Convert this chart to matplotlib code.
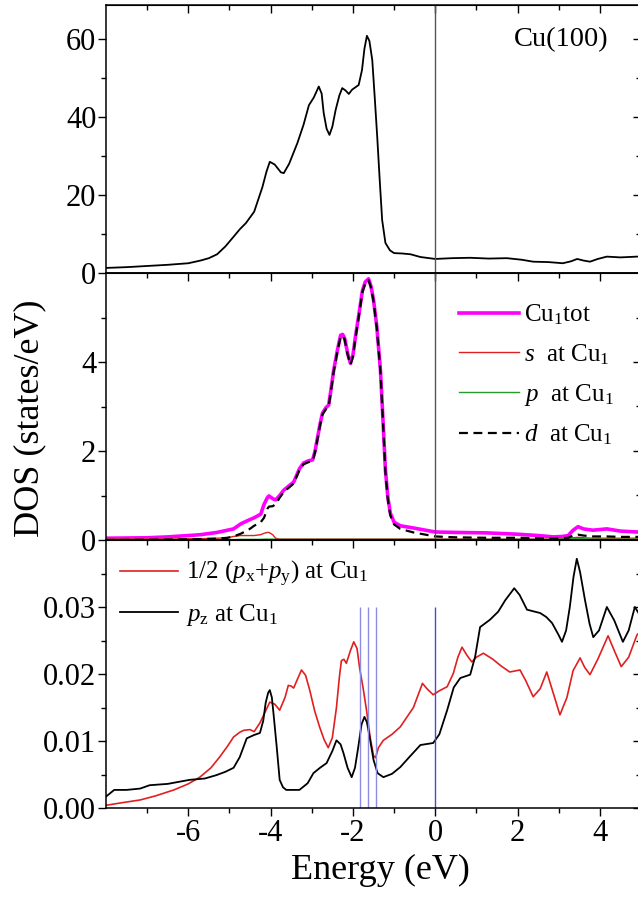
import matplotlib
matplotlib.use("Agg")
import matplotlib.pyplot as plt
from matplotlib.ticker import MultipleLocator, FixedLocator

plt.rcParams['font.family'] = ['Liberation Serif', 'DejaVu Serif']
plt.rcParams['mathtext.fontset'] = 'custom'
plt.rcParams['mathtext.rm'] = 'Liberation Serif'
plt.rcParams['mathtext.it'] = 'Liberation Serif:italic'
plt.rcParams['axes.unicode_minus'] = False

# ---- total DOS, Cu(100) slab ----
e_tot = [-8.0, -7.5, -7.0, -6.5, -6.0, -5.7, -5.5, -5.3, -5.1, -4.9, -4.75, -4.6, -4.4, -4.2,
         -4.1, -4.02, -3.9, -3.75, -3.68, -3.55, -3.35, -3.2, -3.07, -2.95, -2.83, -2.76,
         -2.71, -2.64, -2.57, -2.5, -2.42, -2.33, -2.26, -2.18, -2.1, -2.02, -1.94, -1.86,
         -1.78, -1.72, -1.66, -1.6, -1.53, -1.47, -1.41, -1.35, -1.29, -1.21, -1.1, -1.0,
         -0.8, -0.6, -0.36, 0.0, 0.4, 0.85, 1.3, 1.74, 2.1, 2.38, 2.75, 3.1, 3.3, 3.45,
         3.6, 3.76, 3.95, 4.17, 4.5, 4.9, 5.0]
dos_tot = [1.3, 1.5, 1.8, 2.1, 2.5, 3.2, 3.8, 4.8, 6.8, 9.3, 11.2, 12.8, 15.7, 22.0,
           26.0, 28.5, 27.8, 25.8, 25.6, 28.0, 33.3, 38.0, 43.0, 45.0, 47.8, 46.0,
           41.0, 37.0, 35.4, 37.5, 41.8, 45.5, 47.4, 46.8, 45.9, 47.0, 47.6, 48.2,
           52.0, 57.5, 60.8, 59.5, 54.6, 45.0, 35.0, 24.0, 13.6, 7.7, 5.8, 5.1,
           5.0, 4.8, 4.1, 3.6, 3.8, 3.9, 3.7, 3.8, 3.4, 2.9, 2.8, 2.5, 3.0, 3.6,
           3.2, 2.9, 3.6, 4.2, 4.0, 4.2, 4.2]

# ---- projected DOS at Cu1 ----
e_cu = [-8.0, -7.0, -6.5, -6.0, -5.7, -5.3, -5.05, -4.9, -4.73, -4.55, -4.4, -4.24, -4.16,
        -4.08, -4.04, -3.95, -3.88, -3.78, -3.68, -3.55, -3.44, -3.3, -3.2, -3.08, -2.98,
        -2.92, -2.86, -2.8, -2.74, -2.65, -2.59, -2.53, -2.47, -2.38, -2.3, -2.25, -2.2,
        -2.13, -2.06, -2.0, -1.94, -1.85, -1.77, -1.7, -1.62, -1.56, -1.5, -1.42, -1.33,
        -1.27, -1.21, -1.15, -1.09, -1.0, -0.85, -0.53, 0.0, 0.5, 1.25, 2.0, 2.5, 2.87,
        3.1, 3.23, 3.35, 3.47, 3.6, 3.83, 4.17, 4.5, 4.9, 5.0]
cu1_tot = [0.04, 0.05, 0.07, 0.10, 0.12, 0.17, 0.22, 0.25, 0.36, 0.44, 0.50, 0.58, 0.80,
           0.95, 0.99, 0.93, 0.90, 1.00, 1.12, 1.22, 1.30, 1.60, 1.73, 1.78, 1.80,
           2.00, 2.30, 2.60, 2.85, 2.98, 3.03, 3.40, 3.80, 4.25, 4.60, 4.62, 4.53,
           4.20, 3.97, 4.15, 4.56, 5.10, 5.60, 5.80, 5.87, 5.70, 5.40, 4.80, 3.80,
           2.70, 1.57, 0.95, 0.60, 0.40, 0.32, 0.27, 0.18, 0.17, 0.16, 0.13, 0.10, 0.07,
           0.08, 0.10, 0.22, 0.30, 0.25, 0.22, 0.25, 0.20, 0.18, 0.18]
cu1_d = [0.0, 0.005, 0.01, 0.015, 0.02, 0.03, 0.05, 0.08, 0.14, 0.22, 0.32, 0.40, 0.50,
         0.70, 0.75, 0.76, 0.80, 0.95, 1.08, 1.18, 1.27, 1.57, 1.70, 1.75, 1.77,
         1.97, 2.27, 2.57, 2.82, 2.95, 3.00, 3.37, 3.77, 4.22, 4.57, 4.59, 4.50,
         4.17, 3.94, 4.12, 4.53, 5.07, 5.57, 5.77, 5.84, 5.67, 5.37, 4.77, 3.77,
         2.67, 1.52, 0.90, 0.55, 0.35, 0.25, 0.17, 0.08, 0.06, 0.05, 0.05, 0.04, 0.03,
         0.04, 0.05, 0.10, 0.12, 0.10, 0.08, 0.08, 0.07, 0.07, 0.07]
cu1_s = [0.02, 0.02, 0.02, 0.03, 0.03, 0.04, 0.05, 0.08, 0.10, 0.10, 0.10, 0.12, 0.15,
         0.17, 0.17, 0.12, 0.04, 0.02, 0.02, 0.02, 0.02, 0.02, 0.02, 0.02, 0.02,
         0.02, 0.02, 0.02, 0.02, 0.02, 0.02, 0.02, 0.02, 0.02, 0.02, 0.02, 0.02,
         0.02, 0.02, 0.02, 0.02, 0.02, 0.02, 0.02, 0.02, 0.02, 0.02, 0.02, 0.02,
         0.02, 0.02, 0.02, 0.02, 0.02, 0.02, 0.02, 0.02, 0.02, 0.02, 0.02, 0.02, 0.02,
         0.03, 0.04, 0.05, 0.06, 0.05, 0.04, 0.04, 0.04, 0.04, 0.04]
cu1_p = [0.01, 0.01, 0.01, 0.01, 0.01, 0.01, 0.01, 0.01, 0.015, 0.015, 0.015, 0.015, 0.02,
         0.02, 0.02, 0.02, 0.015, 0.015, 0.015, 0.015, 0.015, 0.015, 0.015, 0.015, 0.015,
         0.015, 0.015, 0.015, 0.015, 0.015, 0.015, 0.015, 0.015, 0.015, 0.015, 0.015, 0.015,
         0.015, 0.015, 0.015, 0.015, 0.015, 0.015, 0.015, 0.015, 0.015, 0.015, 0.015, 0.015,
         0.015, 0.015, 0.015, 0.015, 0.015, 0.015, 0.015, 0.015, 0.015, 0.015, 0.015, 0.015, 0.015,
         0.02, 0.02, 0.03, 0.03, 0.03, 0.02, 0.02, 0.02, 0.02, 0.02]

# ---- in-plane / out-of-plane p states at Cu1 ----
e_pxy = [-8.0, -7.6, -7.17, -6.8, -6.35, -6.0, -5.72, -5.45, -5.24, -5.05, -4.9, -4.75,
         -4.65, -4.5, -4.4, -4.26, -4.12, -4.02, -3.9, -3.78, -3.65, -3.57, -3.5, -3.44,
         -3.35, -3.25, -3.15, -3.05, -2.93, -2.81, -2.7, -2.6, -2.5, -2.4, -2.33, -2.28,
         -2.22, -2.16, -2.06, -1.98, -1.9, -1.84, -1.75, -1.67, -1.58, -1.5, -1.45, -1.38,
         -1.26, -1.05, -0.85, -0.53, -0.42, -0.31, -0.2, -0.05, 0.1, 0.29, 0.44, 0.55,
         0.65, 0.77, 0.89, 1.0, 1.17, 1.4, 1.6, 1.81, 2.06, 2.2, 2.38, 2.55, 2.71, 2.85,
         3.03, 3.2, 3.35, 3.52, 3.63, 3.76, 3.95, 4.2, 4.35, 4.52, 4.7, 4.9, 5.0]
dos_pxy = [0.0004, 0.0008, 0.0012, 0.0018, 0.0027, 0.0036, 0.0046, 0.0060, 0.0076, 0.0092,
           0.0106, 0.0113, 0.0116, 0.0117, 0.0114, 0.0127, 0.0145, 0.0158, 0.0155, 0.0146,
           0.0165, 0.0183, 0.0182, 0.0179, 0.0192, 0.0206, 0.0198, 0.0176, 0.0145, 0.0121,
           0.0102, 0.0090, 0.0105, 0.0150, 0.0195, 0.0220, 0.0222, 0.0216, 0.0235, 0.0248,
           0.0238, 0.0210, 0.0178, 0.0146, 0.0105, 0.0078, 0.0075, 0.0090, 0.0101, 0.0110,
           0.0121, 0.0150, 0.0168, 0.0186, 0.0178, 0.0169, 0.0175, 0.0181, 0.0201, 0.0225,
           0.0240, 0.0228, 0.0218, 0.0225, 0.0231, 0.0222, 0.0212, 0.0203, 0.0206, 0.0190,
           0.0166, 0.0178, 0.0203, 0.0175, 0.0139, 0.0165, 0.0205, 0.0224, 0.0210, 0.0199,
           0.0222, 0.0257, 0.0235, 0.0211, 0.0225, 0.0258, 0.0265]
e_pz = [-8.0, -7.8, -7.5, -7.17, -6.94, -6.5, -5.97, -5.6, -5.32, -5.1, -4.9, -4.75, -4.58,
        -4.4, -4.26, -4.18, -4.12, -4.06, -4.02, -3.97, -3.93, -3.85, -3.78, -3.7, -3.62,
        -3.3, -3.1, -2.96, -2.8, -2.64, -2.5, -2.4, -2.3, -2.23, -2.13, -2.03, -1.95,
        -1.87, -1.79, -1.72, -1.66, -1.6, -1.5, -1.4, -1.26, -1.05, -0.85, -0.6, -0.36,
        -0.05, 0.1, 0.29, 0.45, 0.61, 0.85, 0.97, 1.09, 1.33, 1.53, 1.7, 1.92, 2.05, 2.23,
        2.55, 2.7, 2.84, 3.0, 3.08, 3.18, 3.27, 3.36, 3.44, 3.52, 3.64, 3.75, 3.84, 3.98,
        4.17, 4.35, 4.56, 4.7, 4.85, 5.0]
dos_pz = [0.0017, 0.0027, 0.0027, 0.0029, 0.0034, 0.0036, 0.0042, 0.0044, 0.0049, 0.0054,
          0.0060, 0.0076, 0.0104, 0.0109, 0.0112, 0.0130, 0.0157, 0.0172, 0.0176, 0.0165,
          0.0141, 0.0090, 0.0042, 0.0031, 0.0027, 0.0027, 0.0037, 0.0052, 0.0060, 0.0067,
          0.0085, 0.0101, 0.0095, 0.0082, 0.0060, 0.0046, 0.0060, 0.0091, 0.0125, 0.0136,
          0.0128, 0.0108, 0.0072, 0.0052, 0.0046, 0.0051, 0.0061, 0.0078, 0.0094, 0.0097,
          0.0110, 0.0146, 0.0180, 0.0194, 0.0199, 0.0226, 0.0270, 0.0281, 0.0293, 0.0310,
          0.0328, 0.0318, 0.0296, 0.0291, 0.0285, 0.0276, 0.0258, 0.0248, 0.0265, 0.0300,
          0.0345, 0.0372, 0.0352, 0.0310, 0.0275, 0.0255, 0.0265, 0.0300, 0.0280, 0.0248,
          0.0265, 0.0300, 0.0285]

# energies of the thin vertical markers in the lower panel
marker_e = [-1.84, -1.63, -1.45]
fermi_e = 0.0
marker_top = 0.03

fs_tick = 22
fs_label = 26
fs_leg = 18

fig = plt.figure(figsize=(6.38, 9.08), dpi=100)
left, width = 106 / 638, 535 / 638
ax1 = fig.add_axes([left, 1 - 273 / 908, width, 268 / 908])
ax2 = fig.add_axes([left, 1 - 540 / 908, width, 267 / 908])
ax3 = fig.add_axes([left, 1 - 808 / 908, width, 268 / 908])

ax1.plot(e_tot, dos_tot, color='black', lw=1.3)
ax1.axvline(fermi_e, color='#555555', lw=1.0)
ax1.set_ylim(0, 68.7)
ax1.yaxis.set_major_locator(MultipleLocator(20))
ax1.yaxis.set_minor_locator(MultipleLocator(10))
ax1.text(0.85, 0.87, 'Cu(100)', transform=ax1.transAxes, ha='center', va='center',
         fontsize=20.5)

ax2.plot(e_cu, cu1_tot, color='#ff00ff', lw=2.6, label=r'Cu$_1$tot')
ax2.plot(e_cu, cu1_s, color='#e02020', lw=1.0, label=r'$s$  at Cu$_1$')
ax2.plot(e_cu, cu1_p, color='#2a9a2a', lw=1.0, label=r'$p$  at Cu$_1$')
ax2.plot(e_cu, cu1_d, color='black', lw=1.6, ls=(0, (4, 2.5)), label=r'$d$  at Cu$_1$')
ax2.axvline(fermi_e, color='#555555', lw=1.0)
ax2.set_ylim(0, 6)
ax2.yaxis.set_major_locator(FixedLocator([0, 2, 4]))
ax2.yaxis.set_minor_locator(FixedLocator([1, 3, 5]))
ax2.legend(loc='upper left', bbox_to_anchor=(0.641, 0.927), frameon=False,
           fontsize=fs_leg, handlelength=2.4, handletextpad=0.2, labelspacing=0.6,
           borderaxespad=0)

ax3.plot(e_pxy, dos_pxy, color='#e02020', lw=1.2,
         label=r'1/2 ($p_\mathrm{x}$+$p_\mathrm{y}$) at Cu$_1$')
ax3.plot(e_pz, dos_pz, color='black', lw=1.3, label=r'$p_\mathrm{z}$ at Cu$_1$')
ax3.vlines(marker_e, 0, marker_top, color='#8c8ce0', lw=1.0)
ax3.vlines([fermi_e], 0, marker_top, color='#4a4ad0', lw=1.0)
ax3.set_ylim(0, 0.04)
ax3.yaxis.set_major_locator(FixedLocator([0.0, 0.01, 0.02, 0.03]))
ax3.yaxis.set_minor_locator(FixedLocator([0.005, 0.015, 0.025, 0.035]))
ax3.yaxis.set_major_formatter(plt.FormatStrFormatter('%.2f'))
ax3.legend(loc='upper left', bbox_to_anchor=(0.008, 0.965), frameon=False,
           fontsize=fs_leg, handlelength=2.3, handletextpad=0.32, labelspacing=0.5,
           borderaxespad=0)

for ax in (ax1, ax2, ax3):
    ax.set_xlim(-8, 5)
    ax.xaxis.set_major_locator(FixedLocator([-6, -4, -2, 0, 2, 4]))
    ax.xaxis.set_minor_locator(FixedLocator([-7, -5, -3, -1, 1, 3, 5]))
    ax.tick_params(which='both', direction='out', width=1.0, labelsize=fs_tick, pad=1)
    ax.tick_params(which='major', length=6)
    ax.tick_params(which='minor', length=3.5)
    for sp in ax.spines.values():
        sp.set_linewidth(1.1)
    # inward mirrored ticks on top and right
    top = ax.secondary_xaxis('top')
    top.xaxis.set_major_locator(FixedLocator([-6, -4, -2, 0, 2, 4]))
    top.xaxis.set_minor_locator(FixedLocator([-7, -5, -3, -1, 1, 3, 5]))
    top.tick_params(which='both', direction='in', labeltop=False, width=1.0)
    top.tick_params(which='major', length=6)
    top.tick_params(which='minor', length=3.5)
    right = ax.secondary_yaxis('right')
    right.yaxis.set_major_locator(ax.yaxis.get_major_locator())
    right.yaxis.set_minor_locator(ax.yaxis.get_minor_locator())
    right.tick_params(which='both', direction='in', labelright=False, width=1.0)
    right.tick_params(which='major', length=6)
    right.tick_params(which='minor', length=3.5)

ax1.tick_params(axis='x', labelbottom=False)
ax2.tick_params(axis='x', labelbottom=False)
ax3.tick_params(axis='x', pad=2)

fig.text(380 / 638, 1 - 870 / 908, 'Energy (eV)', ha='center', va='center',
         fontsize=fs_label)
fig.text(30 / 638, 1 - 418 / 908, 'DOS (states/eV)', ha='center', va='center',
         rotation=90, fontsize=fs_label)

fig.savefig('out.png', dpi=100)
